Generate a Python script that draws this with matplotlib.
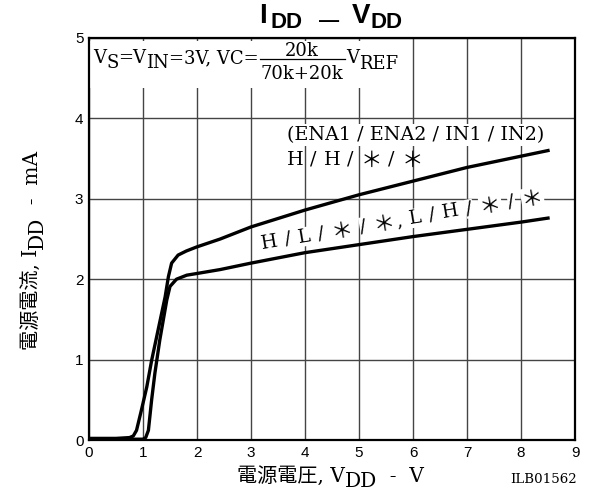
import math
import matplotlib
matplotlib.use("Agg")
import matplotlib.pyplot as plt
from matplotlib.patches import Rectangle
from matplotlib.lines import Line2D

# Data: H/H/*/* curve
vdd_hh = [0.0, 0.5, 0.75, 0.82, 0.88, 0.97, 1.07, 1.16, 1.28, 1.41, 1.47, 1.53, 1.65, 1.8, 1.99,
          2.43, 3.0, 4.0, 5.0, 6.0, 7.0, 8.0, 8.5]
idd_hh = [0.02, 0.02, 0.03, 0.05, 0.12, 0.37, 0.66, 0.99, 1.37, 1.78, 2.03, 2.20, 2.30, 2.35, 2.40,
          2.50, 2.65, 2.86, 3.05, 3.22, 3.39, 3.53, 3.60]
# Data: H/L/*/*, L/H/*/* curve
vdd_hl = [0.0, 0.5, 1.0, 1.05, 1.10, 1.16, 1.22, 1.31, 1.44, 1.5, 1.62, 1.81, 1.99,
          2.43, 3.0, 4.0, 5.0, 6.0, 7.0, 8.0, 8.5]
idd_hl = [0.01, 0.01, 0.01, 0.03, 0.12, 0.50, 0.83, 1.24, 1.74, 1.91, 2.00, 2.05, 2.07,
          2.12, 2.20, 2.33, 2.43, 2.53, 2.62, 2.71, 2.76]

xticks = list(range(0, 10))
yticks = list(range(0, 6))

W, H = 591, 494
serif = ['DejaVu Serif', 'Noto Sans CJK JP']
sans = ['Liberation Sans', 'DejaVu Sans']

fig = plt.figure(figsize=(W / 100, H / 100), dpi=100)
ax = fig.add_axes([89 / W, 1 - 440 / H, (575 - 89) / W, (440 - 38) / H])

ax.plot(vdd_hh, idd_hh, color='black', lw=2.4, zorder=3)
ax.plot(vdd_hl, idd_hl, color='black', lw=2.4, zorder=3)

ax.set_xlim(0, 9)
ax.set_ylim(0, 5)
ax.set_xticks(xticks)
ax.set_yticks(yticks)
ax.set_xticklabels([str(t) for t in xticks], family=sans, fontsize=11)
ax.set_yticklabels([str(t) for t in yticks], family=sans, fontsize=11)
ax.tick_params(length=0, pad=4)
ax.grid(True, color='#444444', lw=1.0)
ax.set_axisbelow(True)
for s in ax.spines.values():
    s.set_linewidth(1.6)
    s.set_zorder(5)

# white area behind the condition text (top-left)
ax.add_patch(Rectangle((0, (440 - 88) / 402), (400 - 89) / 486, 1 - (440 - 88) / 402 - 0.008,
                       transform=ax.transAxes, fc='white', ec='none', zorder=2))

renderer = fig.canvas.get_renderer()


def put(x, y, s, rot=0.0, **kw):
    return fig.text(x / W, 1 - y / H, s, rotation=rot, rotation_mode='anchor',
                    ha=kw.pop('ha', 'left'), va='baseline', zorder=6, **kw)


def chain(x0, y0, parts, rot=0.0, bbox=None):
    """Place text pieces one after another along a baseline (pixel coords, y down).
    parts: (text, props, dy_down_px, gap_px). Returns end position."""
    th = math.radians(rot)
    ux, uy = math.cos(th), -math.sin(th)
    dx, dy_ = math.sin(th), math.cos(th)
    pos = 0.0
    for s, kw, dy, gap in parts:
        t = fig.text(0, 0, s, **kw)
        w = t.get_window_extent(renderer).width
        t.remove()
        pos += gap
        extra = {} if bbox is None else {'bbox': bbox}
        put(x0 + ux * pos + dx * dy, y0 + uy * pos + dy_ * dy, s, rot=rot, **extra, **kw)
        pos += w
    return x0 + ux * pos, y0 + uy * pos


# Title
tb = dict(family=sans, fontweight='bold', fontsize=20)
ts = dict(family=sans, fontweight='bold', fontsize=16)
put(259, 23, 'I', **tb)
put(270, 28, 'DD', **ts)
put(319, 25.5, '—', family=sans, fontweight='bold', fontsize=14.5)
put(352, 23, 'V', **tb)
put(370, 28, 'DD', **ts)

# Condition text with fraction
fs = dict(family=serif, fontsize=13)
xe, _ = chain(93, 63, [('V', fs, 0, 0), ('S', fs, 5, 0), ('=V', fs, 0, 0),
                       ('IN', fs, 5, 0), ('=3V, VC=', fs, 0, 0)])
t = fig.text(0, 0, '70k+20k', **fs)
wd = t.get_window_extent(renderer).width
t.remove()
xf = xe + 2
put(xf + wd / 2, 56, '20k', ha='center', **fs)
put(xf, 79, '70k+20k', **fs)
fig.add_artist(Line2D([(xf - 1) / W, (xf + wd + 1) / W], [1 - 59.5 / H, 1 - 59.5 / H],
                      transform=fig.transFigure, color='black', lw=0.9, zorder=6))
chain(xf + wd + 3, 63, [('V', fs, 0, 0), ('REF', fs, 6, 0)])

# Curve labels
lf = dict(family=serif, fontsize=13.8)
af_ = dict(family=serif, fontsize=15.5)
put(415.5, 140, '(ENA1 / ENA2 / IN1 / IN2)', ha='center',
    bbox=dict(boxstyle='square,pad=0.1', fc='white', ec='none'), **lf)


def tokens(words, gap):
    out = []
    for i, wtok in enumerate(words):
        if wtok.startswith('＊'):
            out.append(('＊', af_, 2, 0 if i == 0 else gap))
            if len(wtok) > 1:
                out.append((wtok[1:], lf, 0, 1))
        else:
            out.append((wtok, lf, 0, 0 if i == 0 else gap))
    return out


chain(287, 165, tokens(['H', '/', 'H', '/', '＊', '/', '＊'], 6.7))
chain(262, 249, tokens(['H', '/', 'L', '/', '＊', '/', '＊,', 'L', '/', 'H', '/', '＊', '/', '＊'], 7.3),
      rot=9.6, bbox=dict(boxstyle='square,pad=0.03', fc='white', ec='none'))

# Axis labels
af = dict(family=serif, fontsize=14.5)
chain(237, 482, [('電源電圧, V', af, 0, 0), ('DD', af, 5, 0), ('  -  V', af, 0, 0)])
chain(38, 350, [('電源電流, I', af, 0, 0), ('DD', af, 5, 0), ('  -  mA', af, 0, 0)], rot=90)

put(577, 483, 'ILB01562', ha='right', family=serif, fontsize=9.6)

fig.savefig('out.png', dpi=100)
